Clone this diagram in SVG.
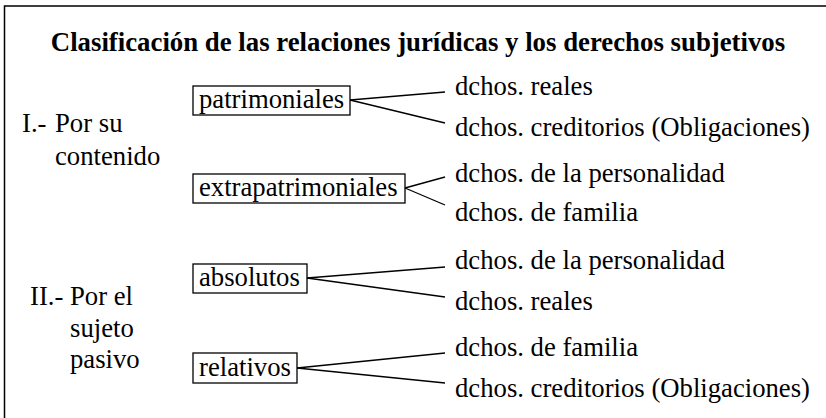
<svg xmlns="http://www.w3.org/2000/svg" width="826" height="418" viewBox="0 0 826 418">
<style>
text{font-family:"Liberation Serif","Times New Roman","DejaVu Serif",serif;font-size:26.7px;fill:#000}
.title{font-weight:bold;font-size:26.8px}
.box{fill:#fff;stroke:#000;stroke-width:1.3}
.conn line{stroke:#000;stroke-width:1.3}
</style>
<rect width="826" height="418" fill="#fff"/>
<path d="M4.5,418 V6 H826" fill="none" stroke="#000" stroke-width="1.5"/>
<text id="title" class="title" x="418" y="51" text-anchor="middle">Clasificación de las relaciones jurídicas y los derechos subjetivos</text>
<g id="grp1">
<text x="22" y="132">I.- </text><text x="55" y="132">Por su</text>
<text x="55" y="165">contenido</text>
</g>
<g id="grp2">
<text x="30" y="305">II.- </text><text x="70" y="305">Por el</text>
<text x="70" y="337">sujeto</text>
<text x="70" y="368">pasivo</text>
</g>
<g id="patrimoniales"><rect class="box" x="193" y="86" width="157" height="29"/><text x="199" y="108">patrimoniales</text></g>
<g id="extrapatrimoniales"><rect class="box" x="193" y="174" width="212" height="29"/><text x="199" y="196">extrapatrimoniales</text></g>
<g id="absolutos"><rect class="box" x="193" y="264" width="114" height="29"/><text x="199" y="286">absolutos</text></g>
<g id="relativos"><rect class="box" x="193" y="353" width="104" height="30"/><text x="199" y="376">relativos</text></g>
<g id="leaves">
<text x="455" y="95">dchos. reales</text>
<text x="455" y="136">dchos. creditorios (Obligaciones)</text>
<text x="455" y="182">dchos. de la personalidad</text>
<text x="455" y="221">dchos. de familia</text>
<text x="455" y="269">dchos. de la personalidad</text>
<text x="455" y="310">dchos. reales</text>
<text x="455" y="356">dchos. de familia</text>
<text x="455" y="397">dchos. creditorios (Obligaciones)</text>
</g>
<g class="conn" id="connectors">
<line x1="350" y1="100" x2="445" y2="92"/>
<line x1="350" y1="100" x2="445" y2="123"/>
<line x1="405" y1="188" x2="445" y2="177"/>
<line x1="405" y1="188" x2="445" y2="205"/>
<line x1="307" y1="278" x2="445" y2="267"/>
<line x1="307" y1="278" x2="445" y2="297"/>
<line x1="297" y1="368" x2="445" y2="353"/>
<line x1="297" y1="368" x2="445" y2="383"/>
</g>
</svg>
